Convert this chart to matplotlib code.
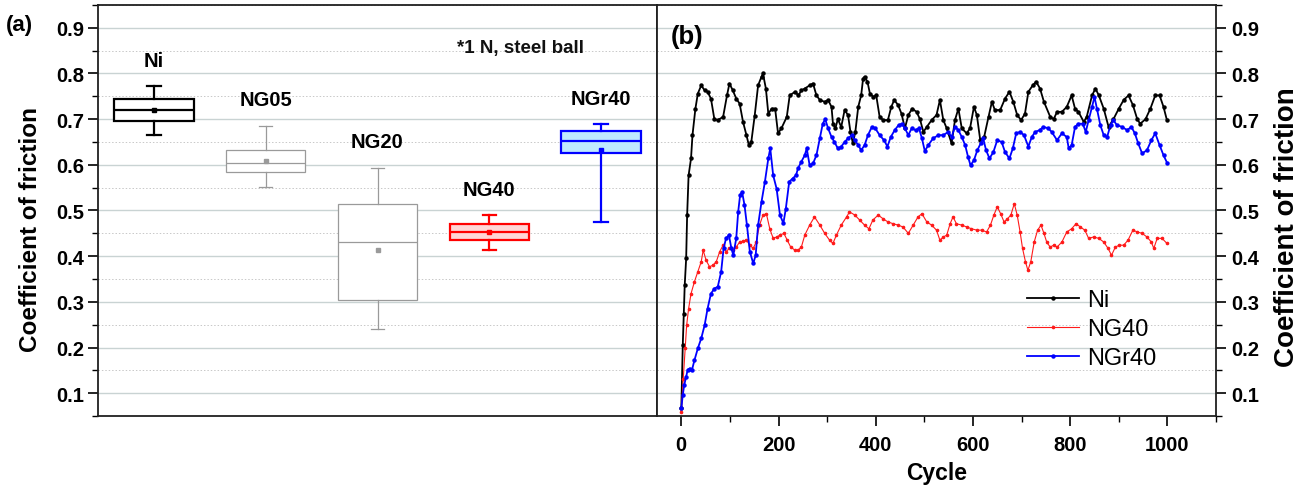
import matplotlib
matplotlib.use("Agg")
import matplotlib.pyplot as plt
from matplotlib.ticker import MultipleLocator

plt.rcParams['font.family'] = ['Liberation Sans', 'DejaVu Sans']

# ---------------- data: panel (a) box plot ----------------
box_labels = ['Ni', 'NG05', 'NG20', 'NG40', 'NGr40']
box_q1 = [0.696, 0.585, 0.305, 0.435, 0.625]
box_med = [0.720, 0.604, 0.430, 0.452, 0.652]
box_q3 = [0.744, 0.633, 0.515, 0.470, 0.673]
box_whislo = [0.665, 0.551, 0.240, 0.413, 0.475]
box_whishi = [0.772, 0.686, 0.593, 0.490, 0.689]
box_mean = [0.720, 0.609, 0.413, 0.452, 0.633]

# ---------------- data: panel (b) friction vs cycle ----------------
ni_cycle = [0, 3, 5, 7, 10, 12, 15, 20, 23, 29, 34, 41, 48, 54, 61, 68, 75, 86, 94, 99,
            106, 113, 120, 127, 134, 139, 144, 151, 158, 165, 168, 174, 179, 186, 193, 199,
            206, 217, 223, 234, 241, 247, 254, 264, 271, 278, 285, 295, 302, 309, 312, 317,
            322, 329, 336, 343, 348, 353, 358, 364, 370, 374, 377, 383, 388, 395, 401, 408,
            415, 425, 432, 438, 446, 453, 460, 467, 475, 484, 491, 498, 505, 515, 525, 532,
            539, 546, 556, 563, 570, 577, 587, 594, 602, 608, 615, 623, 632, 639, 645, 656,
            666, 675, 683, 691, 699, 707, 714, 723, 730, 738, 746, 759, 766, 773, 783, 793,
            803, 810, 817, 828, 834, 845, 852, 859, 869, 879, 889, 900, 910, 920, 929, 938,
            944, 955, 965, 975, 984, 992, 999]
ni_cof = [0.067, 0.205, 0.274, 0.336, 0.395, 0.490, 0.577, 0.614, 0.665, 0.723, 0.756, 0.774,
          0.763, 0.760, 0.745, 0.700, 0.698, 0.705, 0.752, 0.778, 0.763, 0.745, 0.734, 0.694,
          0.665, 0.643, 0.650, 0.708, 0.774, 0.793, 0.800, 0.767, 0.712, 0.723, 0.723, 0.669,
          0.680, 0.705, 0.752, 0.760, 0.752, 0.763, 0.767, 0.774, 0.778, 0.752, 0.742, 0.738,
          0.742, 0.727, 0.690, 0.680, 0.700, 0.683, 0.720, 0.709, 0.672, 0.647, 0.672, 0.727,
          0.752, 0.789, 0.793, 0.782, 0.756, 0.749, 0.752, 0.705, 0.698, 0.698, 0.727, 0.742,
          0.731, 0.712, 0.680, 0.709, 0.723, 0.716, 0.700, 0.672, 0.683, 0.698, 0.709, 0.742,
          0.698, 0.680, 0.647, 0.698, 0.723, 0.680, 0.669, 0.680, 0.727, 0.709, 0.654, 0.661,
          0.705, 0.738, 0.720, 0.720, 0.745, 0.760, 0.738, 0.709, 0.698, 0.712, 0.760, 0.774,
          0.782, 0.767, 0.738, 0.705, 0.700, 0.716, 0.716, 0.727, 0.752, 0.723, 0.716, 0.694,
          0.705, 0.752, 0.767, 0.752, 0.723, 0.683, 0.700, 0.723, 0.742, 0.752, 0.731, 0.700,
          0.690, 0.700, 0.723, 0.752, 0.752, 0.727, 0.698]

ng40_cycle = [0, 4, 8, 11, 15, 20, 27, 34, 41, 45, 51, 58, 65, 72, 79, 86, 92, 99, 106, 113,
              120, 127, 134, 141, 148, 154, 161, 168, 175, 182, 189, 196, 203, 211, 218, 225,
              234, 240, 247, 254, 264, 274, 285, 295, 305, 312, 319, 329, 340, 346, 357, 367,
              377, 386, 394, 405, 415, 425, 436, 446, 456, 467, 477, 487, 495, 505, 515, 525,
              532, 539, 546, 553, 559, 566, 577, 587, 597, 608, 618, 628, 636, 643, 650, 657,
              664, 671, 678, 685, 691, 697, 702, 708, 713, 719, 726, 733, 740, 746, 752, 759,
              766, 773, 783, 793, 803, 812, 821, 830, 838, 848, 859, 869, 878, 885, 893, 901,
              910, 919, 929, 938, 948, 958, 967, 972, 979, 989, 999]
ng40_cof = [0.059, 0.132, 0.198, 0.249, 0.285, 0.318, 0.344, 0.366, 0.388, 0.413, 0.391, 0.377,
            0.380, 0.388, 0.410, 0.424, 0.410, 0.417, 0.413, 0.420, 0.431, 0.433, 0.435, 0.424,
            0.417, 0.431, 0.468, 0.490, 0.493, 0.460, 0.439, 0.442, 0.446, 0.450, 0.435, 0.420,
            0.413, 0.413, 0.420, 0.446, 0.468, 0.486, 0.468, 0.450, 0.435, 0.428, 0.446, 0.468,
            0.486, 0.497, 0.490, 0.479, 0.468, 0.460, 0.479, 0.490, 0.482, 0.475, 0.471, 0.468,
            0.464, 0.450, 0.468, 0.486, 0.493, 0.475, 0.468, 0.457, 0.435, 0.442, 0.446, 0.471,
            0.486, 0.471, 0.468, 0.464, 0.460, 0.457, 0.457, 0.453, 0.468, 0.490, 0.508, 0.493,
            0.475, 0.482, 0.490, 0.515, 0.490, 0.453, 0.417, 0.388, 0.369, 0.388, 0.431, 0.457,
            0.468, 0.450, 0.430, 0.420, 0.424, 0.420, 0.431, 0.453, 0.460, 0.471, 0.464, 0.457,
            0.439, 0.442, 0.439, 0.431, 0.417, 0.402, 0.420, 0.424, 0.424, 0.435, 0.457, 0.453,
            0.450, 0.442, 0.431, 0.417, 0.439, 0.439, 0.428]

ngr40_cycle = [0, 3, 6, 10, 13, 17, 22, 27, 34, 41, 48, 54, 61, 68, 75, 82, 87, 92, 98, 103,
               107, 113, 117, 121, 125, 130, 135, 141, 148, 153, 158, 165, 172, 179, 183, 189,
               196, 203, 210, 215, 222, 229, 236, 240, 247, 254, 258, 264, 271, 278, 285, 291,
               296, 302, 309, 315, 322, 329, 336, 343, 351, 357, 364, 370, 377, 384, 392, 399,
               408, 417, 424, 431, 439, 447, 454, 460, 467, 474, 482, 489, 495, 501, 508, 518,
               529, 539, 549, 556, 563, 570, 577, 584, 590, 595, 602, 609, 616, 621, 627, 634,
               642, 650, 659, 666, 675, 682, 689, 697, 705, 714, 721, 728, 737, 745, 755, 762,
               773, 783, 793, 797, 803, 810, 817, 826, 832, 838, 845, 850, 855, 862, 869, 876,
               883, 889, 896, 907, 917, 926, 933, 940, 948, 958, 967, 975, 984, 992, 1000]
ngr40_cof = [0.067, 0.096, 0.118, 0.136, 0.151, 0.154, 0.151, 0.172, 0.198, 0.220, 0.249, 0.285,
             0.318, 0.329, 0.333, 0.366, 0.417, 0.439, 0.446, 0.417, 0.402, 0.439, 0.497, 0.534,
             0.541, 0.512, 0.468, 0.410, 0.384, 0.402, 0.468, 0.519, 0.563, 0.614, 0.636, 0.577,
             0.548, 0.490, 0.472, 0.504, 0.563, 0.570, 0.577, 0.592, 0.607, 0.621, 0.636, 0.599,
             0.603, 0.621, 0.658, 0.690, 0.700, 0.680, 0.661, 0.650, 0.636, 0.640, 0.650, 0.658,
             0.665, 0.654, 0.643, 0.632, 0.643, 0.665, 0.683, 0.680, 0.665, 0.654, 0.640, 0.661,
             0.676, 0.687, 0.690, 0.680, 0.665, 0.680, 0.676, 0.680, 0.658, 0.630, 0.643, 0.658,
             0.665, 0.665, 0.672, 0.661, 0.683, 0.676, 0.661, 0.643, 0.617, 0.599, 0.610, 0.632,
             0.647, 0.658, 0.632, 0.614, 0.628, 0.654, 0.650, 0.628, 0.614, 0.636, 0.669, 0.672,
             0.665, 0.640, 0.661, 0.672, 0.676, 0.683, 0.680, 0.672, 0.654, 0.669, 0.661, 0.636,
             0.643, 0.683, 0.690, 0.690, 0.672, 0.698, 0.727, 0.749, 0.723, 0.687, 0.665, 0.661,
             0.687, 0.698, 0.687, 0.683, 0.676, 0.683, 0.669, 0.647, 0.625, 0.632, 0.654, 0.669,
             0.643, 0.621, 0.603]

series_labels = ['Ni', 'NG40', 'NGr40']

# ---------------- figure ----------------
W, H = 1309, 489
fig = plt.figure(figsize=(W / 100, H / 100), dpi=100)
fig.patch.set_facecolor('white')

def fx(px):
    return px / W

def fy(py):
    return 1 - py / H

ax_l, ax_m, ax_r, ax_t, ax_b = 98, 657, 1216, 6, 417
axA = fig.add_axes([fx(ax_l), fy(ax_b), (ax_m - ax_l) / W, (ax_b - ax_t) / H])
axB = fig.add_axes([fx(ax_m), fy(ax_b), (ax_r - ax_m) / W, (ax_b - ax_t) / H])

TICK_FS = 14.5

for ax in (axA, axB):
    ax.set_ylim(0.05, 0.95)
    ax.yaxis.set_major_locator(MultipleLocator(0.1))
    ax.yaxis.set_minor_locator(MultipleLocator(0.05))
    ax.grid(True, axis='y', which='major', color='#c9d3d3', lw=1.0)
    ax.grid(True, axis='y', which='minor', color='#c8c8c8', lw=0.7, linestyle=(0, (1.5, 2)))
    ax.set_axisbelow(True)
    for s in ax.spines.values():
        s.set_linewidth(1.3)
        s.set_color('#202020')
    ax.tick_params(which='major', direction='out', length=7, width=1.2, pad=3)
    ax.tick_params(which='minor', direction='out', length=4, width=1.0)

# ---- panel (a) ----
positions = list(range(1, len(box_labels) + 1))
edge_colors = ['black', '#9a9a9a', '#9a9a9a', 'red', 'blue']
face_colors = ['white', 'white', 'white', '#ffd6d6', '#bfe9ff']
line_widths = [1.6, 0.9, 0.9, 1.6, 1.6]

for i, lab in enumerate(box_labels):
    st = dict(label=lab, q1=box_q1[i], med=box_med[i], q3=box_q3[i],
              whislo=box_whislo[i], whishi=box_whishi[i], mean=box_mean[i], fliers=[])
    c, lw = edge_colors[i], line_widths[i]
    axA.bxp([st], positions=[positions[i]], widths=0.71, capwidths=0.12,
            patch_artist=True, showmeans=True, showfliers=False,
            boxprops=dict(facecolor=face_colors[i], edgecolor=c, linewidth=lw),
            medianprops=dict(color=c, linewidth=lw),
            whiskerprops=dict(color=c, linewidth=lw),
            capprops=dict(color=c, linewidth=lw),
            meanprops=dict(marker='s', markersize=3.5, markerfacecolor=c,
                           markeredgecolor=c),
            manage_ticks=False)
    axA.text(positions[i], box_whishi[i] + 0.057, lab, ha='center', va='center',
             fontsize=14.5, fontweight='bold')

axA.set_xlim(0.5, 5.5)
axA.set_xticks([])
axA.tick_params(axis='y', labelsize=TICK_FS)
for lab in axA.get_yticklabels():
    lab.set_fontweight('bold')
axA.text(4.28, 0.858, '*1 N, steel ball', ha='center', va='center',
         fontsize=13.5, fontweight='bold', color='#111111')

# ---- panel (b) ----
axB.plot(ni_cycle, ni_cof, color='black', lw=1.3, marker='o', ms=2.2, label=series_labels[0])
axB.plot(ng40_cycle, ng40_cof, color='#ff1a1a', lw=0.8, marker='o', ms=1.6, label=series_labels[1])
axB.plot(ngr40_cycle, ngr40_cof, color='#0000ff', lw=1.3, marker='o', ms=2.2, label=series_labels[2])

axB.set_xlim(-50, 1100)
axB.xaxis.set_major_locator(MultipleLocator(200))
axB.xaxis.set_minor_locator(MultipleLocator(100))
axB.yaxis.tick_right()
axB.yaxis.set_label_position('right')
axB.tick_params(axis='both', which='both', left=False, right=True)
axB.tick_params(axis='y', labelsize=TICK_FS, pad=4)
axB.tick_params(axis='x', labelsize=TICK_FS, pad=7)
for lab in axB.get_xticklabels() + axB.get_yticklabels():
    lab.set_fontweight('bold')

axB.set_xlabel('Cycle', fontsize=16.5, fontweight='bold', labelpad=5)

leg = axB.legend(loc='center left',
                 bbox_to_anchor=((1027 - ax_m) / (ax_r - ax_m), (ax_b - 330) / (ax_b - ax_t)),
                 frameon=False, fontsize=17, handlelength=2.2, handletextpad=0.35,
                 labelspacing=0.3, borderpad=0, borderaxespad=0, markerscale=1.0)

# ---- labels ----
fig.text(fx(31), fy(229), 'Coefficient of friction', rotation=90, ha='center', va='center',
         fontsize=17.5, fontweight='bold')
fig.text(fx(1287), fy(227), 'Coefficient of friction', rotation=90, ha='center', va='center',
         fontsize=20, fontweight='bold')
fig.text(fx(6), fy(25), '(a)', ha='left', va='center', fontsize=16, fontweight='bold')
fig.text(fx(671), fy(37), '(b)', ha='left', va='center', fontsize=18.5, fontweight='bold')

fig.savefig('out.png', dpi=100, facecolor='white')
